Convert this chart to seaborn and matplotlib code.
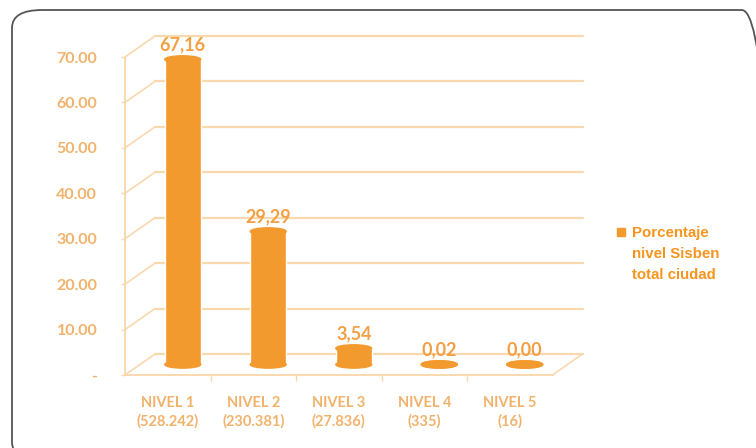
import numpy as np
import pandas as pd
import matplotlib.pyplot as plt
import seaborn as sns
from matplotlib.patches import Ellipse, FancyBboxPatch, Rectangle
from matplotlib.ticker import FixedLocator

# data
niveles = ['NIVEL 1\n(528.242)', 'NIVEL 2\n(230.381)', 'NIVEL 3\n(27.836)',
           'NIVEL 4\n(335)', 'NIVEL 5\n(16)']
porcentaje = [67.16, 29.29, 3.54, 0.02, 0.00]
yticks = [0, 10, 20, 30, 40, 50, 60, 70]
legend_label = 'Porcentaje\nnivel Sisben\ntotal ciudad'

# styles
bar_col = '#F39A2E'
grid_col = '#F9D8AE'
tick_col = '#F1B36C'
label_col = '#F3A044'
legend_col = '#F7941D'
depth_px = (30, 21)   # depth of the fake 3d box, in pixels
bar_w = 0.42

sns.set_style('white')
plt.rcParams['font.family'] = ['Lato', 'DejaVu Sans']

df = pd.DataFrame({'nivel': niveles, 'pct': porcentaje})

fig = plt.figure(figsize=(7.56, 4.48), dpi=100)
ax = fig.add_axes([125 / 756, 1 - 375 / 448, 427.5 / 756, 318 / 448])
ax.patch.set_alpha(0)

sns.barplot(data=df, x='nivel', y='pct', color=bar_col, width=bar_w,
            saturation=1, ax=ax, zorder=3)
ax.set_xlim(-0.5, 4.5)
ax.set_ylim(0, 70)

# depth offset in data units
inv = ax.transData.inverted()
p0 = inv.transform(ax.transData.transform((0, 0)))
p1 = inv.transform(ax.transData.transform((0, 0)) + np.array(depth_px))
ddx, ddy = p1 - p0

# back wall grid lines + diagonals at the left
for y in yticks:
    ax.plot([-0.5 + ddx, 4.5 + ddx], [y + ddy, y + ddy], color=grid_col,
            lw=1.6, clip_on=False, zorder=1)
    ax.plot([-0.5, -0.5 + ddx], [y, y + ddy], color=grid_col, lw=1.2,
            clip_on=False, zorder=1)
# floor right edge
ax.plot([4.5, 4.5 + ddx], [0, ddy], color=grid_col, lw=1.2, clip_on=False)

# cylinders: shift bars half way into the box, add caps
ell_h = 1.6
for patch, val in zip(ax.patches, porcentaje):
    patch.set_x(patch.get_x() + ddx / 2)
    patch.set_y(ddy / 2)
    patch.set_height(val)
    cx = patch.get_x() + patch.get_width() / 2
    for yy in (ddy / 2, ddy / 2 + val):
        ax.add_patch(Ellipse((cx, yy), bar_w, ell_h, color=bar_col,
                             zorder=3, clip_on=False))
    ax.text(cx, ddy / 2 + val + 1.3, f'{val:.2f}'.replace('.', ','),
            ha='center', va='bottom', fontsize=13, fontweight='bold',
            color=label_col, clip_on=False)

# axes garnish
sns.despine(ax=ax, top=True, right=True)
for side in ('left', 'bottom'):
    ax.spines[side].set_color(grid_col)
    ax.spines[side].set_linewidth(1.4)
ax.set_yticks(yticks)
ax.set_yticklabels(['-'] + [f'{v:.2f}' for v in yticks[1:]],
                   fontweight='bold')
ax.tick_params(axis='y', length=3, width=1, color=grid_col, pad=17,
               labelsize=11.5, labelcolor=tick_col, left=True)
for t in ax.get_xticklabels():
    t.set_fontweight('bold')
    t.set_linespacing(1.35)
ax.tick_params(axis='x', length=0, pad=15, labelsize=10.5,
               labelcolor=tick_col)
ax.xaxis.set_minor_locator(FixedLocator([0.5, 1.5, 2.5, 3.5]))
ax.tick_params(axis='x', which='minor', length=4, width=1, color=grid_col,
               bottom=True)
ax.set_xlabel('')
ax.set_ylabel('')

# legend: square key + bold label
fig.patches.append(Rectangle((617 / 756, 1 - 236 / 448), 8 / 756, 8 / 448,
                             transform=fig.transFigure, color=bar_col))
fig.text(632 / 756, 1 - 226.5 / 448, legend_label, ha='left', va='top',
         fontsize=10.8, fontweight='bold', family='Liberation Sans',
         color=legend_col, linespacing=1.6)

# rounded frame around everything
frame = FancyBboxPatch((12 / 756, 1 - 460 / 448), 760 / 756, 450 / 448,
                       boxstyle='round,pad=0,rounding_size=0.04',
                       transform=fig.transFigure, fill=False,
                       edgecolor='#555555', lw=1.3, clip_on=False)
fig.patches.append(frame)

fig.savefig('out.png', dpi=100)
